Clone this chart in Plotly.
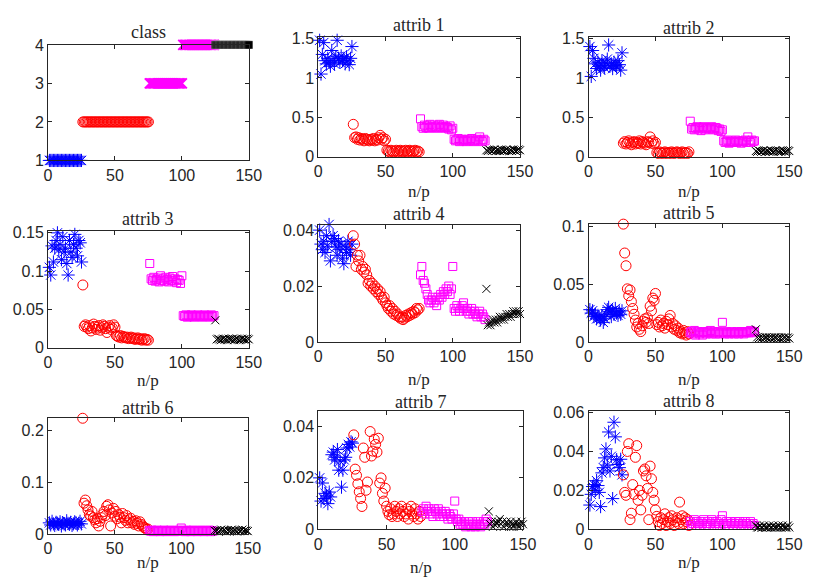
import plotly.graph_objects as go

# ---------------- data ----------------
idx_c1 = list(range(1, 26))      # class 1 samples
idx_c2 = list(range(26, 76))     # class 2 samples
idx_c3 = list(range(76, 125))    # class 3/4 (magenta) samples
idx_c4 = list(range(125, 151))   # class 4 (black) samples

class_c1 = [1] * 25
class_c2 = [2] * 50
class_c3 = [3] * 25 + [4] * 24
class_c4 = [4] * 26

a1_c1 = [1.48, 1.05, 1.30, 1.45, 1.22, 1.18, 1.25, 1.20, 1.15, 1.35, 1.22, 1.18, 1.27, 1.48, 1.25,
         1.20, 1.28, 1.22, 1.25, 1.18, 1.27, 1.22, 1.17, 1.25, 1.40]
a1_c2 = [0.41, 0.24, 0.25, 0.22, 0.24, 0.21, 0.23, 0.22, 0.20, 0.23, 0.22, 0.21, 0.20, 0.22, 0.21,
         0.23, 0.20, 0.22, 0.21, 0.24, 0.27, 0.22, 0.24, 0.20, 0.22, 0.08, 0.07, 0.06, 0.08, 0.07,
         0.06, 0.07, 0.08, 0.06, 0.07, 0.08, 0.07, 0.06, 0.07, 0.08, 0.06, 0.07, 0.08, 0.07, 0.06,
         0.07, 0.08, 0.06, 0.07, 0.06]
a1_c3 = [0.48, 0.38, 0.36, 0.40, 0.37, 0.39, 0.36, 0.41, 0.38, 0.37, 0.40, 0.38, 0.36, 0.39, 0.41,
         0.37, 0.38, 0.40, 0.36, 0.38, 0.37, 0.35, 0.39, 0.34, 0.36, 0.22, 0.20, 0.21, 0.23, 0.19,
         0.21, 0.22, 0.20, 0.21, 0.19, 0.22, 0.20, 0.21, 0.23, 0.20, 0.19, 0.21, 0.22, 0.20, 0.25,
         0.21, 0.19, 0.22, 0.20]
a1_c4 = [0.08, 0.07, 0.09, 0.08, 0.07, 0.08, 0.09, 0.07, 0.08, 0.08, 0.07, 0.09, 0.08, 0.07, 0.08,
         0.09, 0.08, 0.07, 0.08, 0.07, 0.09, 0.08, 0.07, 0.08, 0.09, 0.08]

a2_c1 = [1.40, 1.02, 1.35, 1.25, 1.18, 1.12, 1.20, 1.15, 1.10, 1.22, 1.16, 1.13, 1.19, 1.24, 1.42,
         1.15, 1.18, 1.12, 1.20, 1.16, 1.14, 1.22, 1.17, 1.10, 1.32]
a2_c2 = [0.17, 0.19, 0.16, 0.18, 0.20, 0.17, 0.15, 0.18, 0.19, 0.16, 0.18, 0.17, 0.20, 0.16, 0.19,
         0.18, 0.17, 0.15, 0.19, 0.18, 0.25, 0.17, 0.20, 0.16, 0.18, 0.05, 0.04, 0.06, 0.05, 0.04,
         0.05, 0.06, 0.04, 0.05, 0.05, 0.04, 0.06, 0.05, 0.04, 0.05, 0.06, 0.05, 0.04, 0.05, 0.06,
         0.04, 0.05, 0.05, 0.04, 0.06]
a2_c3 = [0.45, 0.35, 0.37, 0.34, 0.36, 0.38, 0.35, 0.37, 0.33, 0.36, 0.38, 0.34, 0.36, 0.37, 0.35,
         0.36, 0.38, 0.34, 0.35, 0.37, 0.36, 0.33, 0.35, 0.32, 0.34, 0.20, 0.18, 0.19, 0.21, 0.17,
         0.19, 0.20, 0.18, 0.19, 0.21, 0.18, 0.20, 0.19, 0.17, 0.20, 0.19, 0.21, 0.18, 0.25, 0.20,
         0.18, 0.21, 0.19, 0.20]
a2_c4 = [0.07, 0.06, 0.08, 0.07, 0.06, 0.07, 0.08, 0.06, 0.07, 0.07, 0.06, 0.08, 0.07, 0.06, 0.07,
         0.08, 0.07, 0.06, 0.07, 0.06, 0.08, 0.07, 0.06, 0.07, 0.08, 0.07]

a3_c1 = [0.105, 0.095, 0.133, 0.112, 0.130, 0.140, 0.150, 0.128, 0.135, 0.115, 0.145, 0.125, 0.130,
         0.110, 0.095, 0.140, 0.125, 0.118, 0.135, 0.148, 0.130, 0.120, 0.140, 0.137, 0.112]
a3_c2 = [0.082, 0.028, 0.030, 0.027, 0.025, 0.029, 0.022, 0.026, 0.031, 0.028, 0.024, 0.027, 0.029,
         0.023, 0.026, 0.030, 0.028, 0.025, 0.020, 0.027, 0.029, 0.024, 0.026, 0.030, 0.027, 0.016,
         0.015, 0.014, 0.016, 0.013, 0.015, 0.014, 0.013, 0.014, 0.012, 0.013, 0.014, 0.012, 0.013,
         0.011, 0.012, 0.013, 0.011, 0.012, 0.010, 0.011, 0.012, 0.010, 0.011, 0.010]
a3_c3 = [0.110, 0.090, 0.088, 0.092, 0.087, 0.089, 0.091, 0.086, 0.094, 0.088, 0.090, 0.087, 0.092,
         0.089, 0.086, 0.091, 0.088, 0.093, 0.087, 0.090, 0.085, 0.089, 0.088, 0.084, 0.094, 0.042,
         0.041, 0.043, 0.040, 0.042, 0.041, 0.043, 0.042, 0.040, 0.041, 0.042, 0.043, 0.041, 0.042,
         0.040, 0.041, 0.043, 0.042, 0.041, 0.042, 0.040, 0.043, 0.041, 0.042]
a3_c4 = [0.036, 0.011, 0.012, 0.011, 0.010, 0.011, 0.012, 0.011, 0.011, 0.010, 0.012, 0.011, 0.011,
         0.012, 0.010, 0.011, 0.012, 0.011, 0.010, 0.011, 0.012, 0.011, 0.011, 0.010, 0.012, 0.011]

a4_c1 = [0.040, 0.035, 0.033, 0.036, 0.032, 0.038, 0.034, 0.042, 0.029, 0.036, 0.038, 0.037, 0.034,
         0.031, 0.036, 0.033, 0.035, 0.030, 0.028, 0.034, 0.032, 0.036, 0.033, 0.031, 0.035]
a4_c2 = [0.038, 0.035, 0.027, 0.031, 0.029, 0.031, 0.026, 0.027, 0.025, 0.026, 0.024, 0.021, 0.022,
         0.020, 0.021, 0.019, 0.020, 0.018, 0.019, 0.017, 0.018, 0.016, 0.015, 0.016, 0.014, 0.013,
         0.012, 0.013, 0.011, 0.012, 0.010, 0.011, 0.0095, 0.010, 0.009, 0.0085, 0.009, 0.008, 0.0085,
         0.0095, 0.009, 0.010, 0.0095, 0.0105, 0.010, 0.011, 0.0105, 0.012, 0.0115, 0.012]
a4_c3 = [0.024, 0.027, 0.022, 0.021, 0.019, 0.017, 0.015, 0.014, 0.015, 0.016, 0.014, 0.015, 0.013,
         0.016, 0.015, 0.017, 0.016, 0.018, 0.017, 0.019, 0.018, 0.020, 0.017, 0.019, 0.027, 0.012,
         0.011, 0.013, 0.012, 0.011, 0.012, 0.013, 0.014, 0.012, 0.011, 0.012, 0.010, 0.011, 0.012,
         0.010, 0.011, 0.010, 0.009, 0.010, 0.011, 0.009, 0.010, 0.009, 0.008]
a4_c4 = [0.019, 0.006, 0.007, 0.006, 0.007, 0.008, 0.007, 0.008, 0.007, 0.008, 0.009, 0.008, 0.009,
         0.008, 0.009, 0.010, 0.009, 0.010, 0.009, 0.010, 0.011, 0.010, 0.011, 0.010, 0.011, 0.010]

a5_c1 = [0.028, 0.025, 0.027, 0.022, 0.024, 0.020, 0.023, 0.021, 0.019, 0.022, 0.017, 0.020, 0.024,
         0.028, 0.030, 0.026, 0.022, 0.027, 0.024, 0.029, 0.025, 0.023, 0.026, 0.024, 0.027]
a5_c2 = [0.102, 0.077, 0.066, 0.046, 0.040, 0.045, 0.035, 0.029, 0.024, 0.019, 0.013, 0.016, 0.011,
         0.009, 0.014, 0.018, 0.020, 0.017, 0.021, 0.016, 0.031, 0.027, 0.038, 0.036, 0.042, 0.015,
         0.017, 0.013, 0.019, 0.014, 0.016, 0.012, 0.018, 0.015, 0.020, 0.023, 0.013, 0.016, 0.011,
         0.014, 0.010, 0.012, 0.008, 0.009, 0.007, 0.010, 0.008, 0.006, 0.009, 0.007]
a5_c3 = [0.008, 0.009, 0.007, 0.010, 0.006, 0.008, 0.009, 0.007, 0.008, 0.006, 0.009, 0.008, 0.007,
         0.009, 0.008, 0.010, 0.007, 0.008, 0.009, 0.007, 0.008, 0.009, 0.007, 0.008, 0.017, 0.008,
         0.007, 0.009, 0.008, 0.007, 0.008, 0.009, 0.008, 0.007, 0.008, 0.009, 0.007, 0.008, 0.009,
         0.008, 0.007, 0.009, 0.008, 0.009, 0.008, 0.010, 0.008, 0.009, 0.009]
a5_c4 = [0.011, 0.004, 0.003, 0.004, 0.003, 0.004, 0.003, 0.004, 0.004, 0.003, 0.004, 0.003, 0.004,
         0.003, 0.004, 0.004, 0.003, 0.004, 0.003, 0.004, 0.003, 0.004, 0.004, 0.003, 0.004, 0.003]

a6_c1 = [0.022, 0.018, 0.025, 0.020, 0.017, 0.023, 0.021, 0.019, 0.024, 0.016, 0.022, 0.020, 0.018,
         0.026, 0.021, 0.019, 0.023, 0.017, 0.020, 0.024, 0.022, 0.018, 0.021, 0.025, 0.020]
a6_c2 = [0.224, 0.060, 0.066, 0.055, 0.047, 0.038, 0.035, 0.044, 0.032, 0.028, 0.022, 0.030, 0.016,
         0.025, 0.032, 0.038, 0.044, 0.036, 0.054, 0.057, 0.047, 0.016, 0.041, 0.050, 0.035, 0.044,
         0.030, 0.038, 0.033, 0.022, 0.040, 0.032, 0.027, 0.036, 0.022, 0.028, 0.031, 0.022, 0.025,
         0.019, 0.026, 0.021, 0.016, 0.024, 0.019, 0.016, 0.013, 0.012, 0.0095, 0.010]
a6_c3 = [0.007, 0.006, 0.008, 0.005, 0.007, 0.006, 0.008, 0.007, 0.005, 0.006, 0.007, 0.008, 0.006,
         0.005, 0.007, 0.006, 0.008, 0.007, 0.006, 0.005, 0.007, 0.006, 0.008, 0.007, 0.012, 0.006,
         0.007, 0.005, 0.008, 0.006, 0.007, 0.005, 0.006, 0.008, 0.007, 0.006, 0.005, 0.007, 0.006,
         0.008, 0.007, 0.005, 0.006, 0.007, 0.006, 0.008, 0.005, 0.007, 0.006]
a6_c4 = [0.007, 0.006, 0.008, 0.005, 0.007, 0.009, 0.006, 0.008, 0.007, 0.005, 0.008, 0.006, 0.007,
         0.009, 0.006, 0.008, 0.007, 0.005, 0.008, 0.006, 0.007, 0.009, 0.006, 0.008, 0.007, 0.006]

a7_c1 = [0.020, 0.011, 0.018, 0.012, 0.014, 0.013, 0.010, 0.0145, 0.0126, 0.029, 0.030, 0.027, 0.028,
         0.031, 0.023, 0.0265, 0.0164, 0.023, 0.027, 0.028, 0.0316, 0.033, 0.032, 0.034, 0.0335]
a7_c2 = [0.0367, 0.0234, 0.021, 0.0177, 0.0146, 0.012, 0.0089, 0.0316, 0.028, 0.0152, 0.0184, 0.0466,
         0.038, 0.0285, 0.0304, 0.035, 0.033, 0.030, 0.0354, 0.018, 0.020, 0.014, 0.011, 0.016, 0.009,
         0.007, 0.0057, 0.008, 0.005, 0.006, 0.009, 0.007, 0.005, 0.008, 0.006, 0.009, 0.007, 0.005,
         0.006, 0.008, 0.004, 0.007, 0.009, 0.006, 0.005, 0.008, 0.006, 0.004, 0.007, 0.005]
a7_c3 = [0.007, 0.008, 0.006, 0.009, 0.007, 0.008, 0.006, 0.007, 0.005, 0.008, 0.007, 0.006, 0.008,
         0.005, 0.007, 0.006, 0.005, 0.007, 0.006, 0.004, 0.006, 0.005, 0.004, 0.006, 0.011, 0.004,
         0.003, 0.004, 0.002, 0.003, 0.002, 0.003, 0.001, 0.002, 0.003, 0.002, 0.001, 0.003, 0.002,
         0.001, 0.002, 0.003, 0.002, 0.001, 0.002, 0.003, 0.002, 0.004, 0.003]
a7_c4 = [0.007, 0.002, 0.003, 0.001, 0.002, 0.003, 0.002, 0.003, 0.004, 0.002, 0.003, 0.001, 0.002,
         0.003, 0.002, 0.001, 0.003, 0.002, 0.001, 0.002, 0.003, 0.002, 0.001, 0.002, 0.003, 0.002]

a8_c1 = [0.0125, 0.018, 0.022, 0.023, 0.020, 0.025, 0.0225, 0.019, 0.0117, 0.029, 0.0317, 0.0367,
         0.0413, 0.033, 0.050, 0.030, 0.0375, 0.0158, 0.055, 0.0475, 0.0358, 0.0333, 0.0317, 0.036, 0.028]
a8_c2 = [0.028, 0.019, 0.0175, 0.040, 0.044, 0.005, 0.0083, 0.023, 0.018, 0.037, 0.043, 0.015, 0.020,
         0.010, 0.0175, 0.030, 0.031, 0.0275, 0.021, 0.005, 0.0325, 0.026, 0.019, 0.015, 0.010, 0.0067,
         0.004, 0.002, 0.006, 0.003, 0.005, 0.008, 0.002, 0.004, 0.006, 0.003, 0.007, 0.005, 0.002,
         0.004, 0.006, 0.003, 0.014, 0.005, 0.007, 0.003, 0.006, 0.004, 0.005, 0.002]
a8_c3 = [0.004, 0.002, 0.003, 0.005, 0.002, 0.004, 0.003, 0.002, 0.004, 0.003, 0.005, 0.002, 0.003,
         0.004, 0.002, 0.003, 0.005, 0.004, 0.002, 0.003, 0.004, 0.003, 0.002, 0.005, 0.007, 0.003,
         0.002, 0.004, 0.003, 0.002, 0.004, 0.003, 0.002, 0.003, 0.004, 0.002, 0.003, 0.004, 0.002,
         0.003, 0.002, 0.004, 0.003, 0.002, 0.003, 0.004, 0.002, 0.003, 0.002]
a8_c4 = [0.002, 0.001, 0.001, 0.002, 0.001, 0.001, 0.002, 0.001, 0.001, 0.001, 0.002, 0.001, 0.001,
         0.002, 0.001, 0.001, 0.001, 0.002, 0.001, 0.001, 0.002, 0.001, 0.001, 0.001, 0.002, 0.001]

panel_titles = ["class", "attrib 1", "attrib 2", "attrib 3", "attrib 4",
                "attrib 5", "attrib 6", "attrib 7", "attrib 8"]
x_ticks = [0, 50, 100, 150]
y_ticks = [[1, 2, 3, 4], [0, 0.5, 1, 1.5], [0, 0.5, 1, 1.5], [0, 0.05, 0.1, 0.15],
           [0, 0.02, 0.04], [0, 0.05, 0.1], [0, 0.1, 0.2], [0, 0.02, 0.04], [0, 0.02, 0.04, 0.06]]
y_tick_text = [["1", "2", "3", "4"], ["0", "0.5", "1", "1.5"], ["0", "0.5", "1", "1.5"],
               ["0", "0.05", "0.1", "0.15"], ["0", "0.02", "0.04"], ["0", "0.05", "0.1"],
               ["0", "0.1", "0.2"], ["0", "0.02", "0.04"], ["0", "0.02", "0.04", "0.06"]]
y_ranges = [[1, 4], [0, 1.52], [0, 1.52], [0, 0.152], [0, 0.042],
            [0, 0.1025], [0, 0.225], [0, 0.046], [0, 0.0608]]

# ---------------- layout geometry (pixels) ----------------
W, H = 816, 585
# left, right, top, bottom of each axes box; title centre y; xlabel centre y
boxes = [
    (45, 250, 38, 157, 25, None),
    (321, 527, 30, 153, 18, 189),
    (597, 802, 30, 153, 21, 189),
    (45, 250, 230, 350, 217, 384),
    (321, 527, 223, 344, 212, 383),
    (597, 802, 222, 344, 211, 383),
    (45, 249, 422, 542, 412, 571),
    (321, 530, 415, 537, 406, 576),
    (597, 802, 415, 537, 405, 571),
]

BLUE, RED, MAG, BLK = "#0000FF", "#FF0000", "#FF00FF", "#000000"
AX = "#262626"

attrib_data = [
    (a1_c1, a1_c2, a1_c3, a1_c4), (a2_c1, a2_c2, a2_c3, a2_c4),
    (a3_c1, a3_c2, a3_c3, a3_c4), (a4_c1, a4_c2, a4_c3, a4_c4),
    (a5_c1, a5_c2, a5_c3, a5_c4), (a6_c1, a6_c2, a6_c3, a6_c4),
    (a7_c1, a7_c2, a7_c3, a7_c4), (a8_c1, a8_c2, a8_c3, a8_c4),
]

fig = go.Figure()


def add(xs, ys, k, symbol, color, size, lw=1.0, fill=None, edge=None):
    ax = "" if k == 0 else str(k + 1)
    marker = dict(symbol=symbol, size=size, color=fill if fill else color,
                  line=dict(color=edge if edge else color, width=lw))
    fig.add_trace(go.Scatter(x=xs, y=ys, mode="markers", marker=marker,
                             xaxis="x" + ax, yaxis="y" + ax, cliponaxis=False,
                             showlegend=False, hoverinfo="x+y"))


# class panel
add(idx_c1, class_c1, 0, "asterisk-open", BLUE, 11)
add(idx_c2, class_c2, 0, "circle-open", RED, 10)
add(idx_c3, class_c3, 0, "x-thin-open", MAG, 10, 1.8)
add(idx_c4, class_c4, 0, "square", BLK, 8, 0.25, fill=BLK, edge="#FFFFFF")

for k, (c1, c2, c3, c4) in enumerate(attrib_data, start=1):
    add(idx_c1, c1, k, "asterisk-open", BLUE, 11)
    add(idx_c2, c2, k, "circle-open", RED, 10)
    add(idx_c3, c3, k, "square-open", MAG, 8)
    add(idx_c4, c4, k, "x-thin-open", BLK, 8)

layout = dict(width=W, height=H, margin=dict(l=0, r=0, t=0, b=0),
              paper_bgcolor="white", plot_bgcolor="white", showlegend=False)
annotations = []
tick_font = dict(family="Liberation Sans, Arial, sans-serif", size=16, color=AX)
serif = dict(family="Liberation Serif, Times New Roman, serif", size=18, color=AX)

for k, (l, r, t, b, ty, ly) in enumerate(boxes):
    sfx = "" if k == 0 else str(k + 1)
    common = dict(showline=True, linecolor=AX, linewidth=1, mirror="ticks", ticks="inside",
                  ticklen=4, tickcolor=AX, showgrid=False, zeroline=False,
                  tickfont=tick_font, fixedrange=True)
    layout["xaxis" + sfx] = dict(common, domain=[l / W, r / W], range=[0, 150],
                                 tickvals=x_ticks, ticktext=[str(v) for v in x_ticks],
                                 anchor="y" + sfx)
    layout["yaxis" + sfx] = dict(common, domain=[1 - b / H, 1 - t / H], range=y_ranges[k],
                                 tickvals=y_ticks[k], ticktext=y_tick_text[k],
                                 anchor="x" + sfx)
    annotations.append(dict(text=panel_titles[k], xref="paper", yref="paper",
                            x=(l + r) / 2 / W, y=1 - ty / H, xanchor="center",
                            yanchor="middle", showarrow=False, font=serif))
    if ly is not None:
        annotations.append(dict(text="n/p", xref="paper", yref="paper",
                                x=(l + r) / 2 / W, y=1 - ly / H, xanchor="center",
                                yanchor="middle", showarrow=False,
                                font=dict(serif, size=17)))

layout["annotations"] = annotations
fig.update_layout(**layout)
fig.write_html("out.html")
